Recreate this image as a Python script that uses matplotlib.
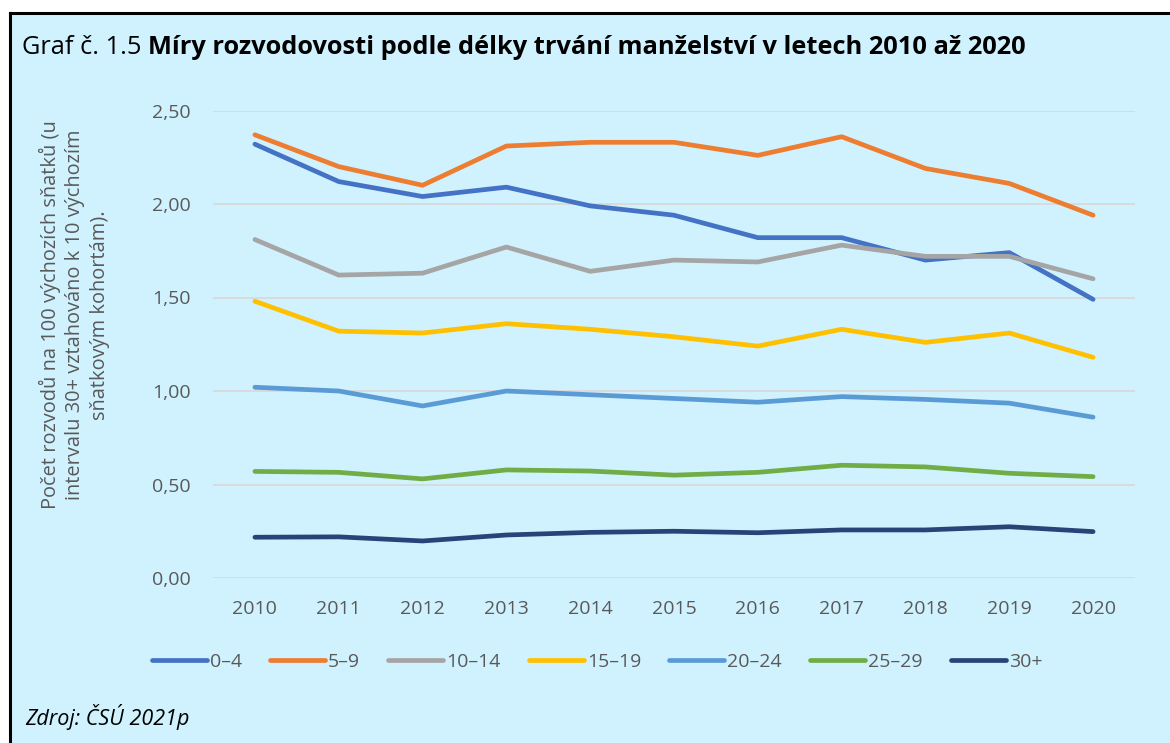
import matplotlib
matplotlib.use("Agg")
import matplotlib.pyplot as plt
from matplotlib.patches import Rectangle
from matplotlib.lines import Line2D

plt.rcParams['font.family'] = ['Open Sans', 'DejaVu Sans']

# data
roky = ['2010', '2011', '2012', '2013', '2014', '2015', '2016', '2017', '2018', '2019', '2020']
d0_4 = [2.32, 2.12, 2.04, 2.09, 1.99, 1.94, 1.82, 1.82, 1.70, 1.74, 1.49]
d5_9 = [2.37, 2.20, 2.10, 2.31, 2.33, 2.33, 2.26, 2.36, 2.19, 2.11, 1.94]
d10_14 = [1.81, 1.62, 1.63, 1.77, 1.64, 1.70, 1.69, 1.78, 1.72, 1.72, 1.60]
d15_19 = [1.48, 1.32, 1.31, 1.36, 1.33, 1.29, 1.24, 1.33, 1.26, 1.31, 1.18]
d20_24 = [1.02, 1.00, 0.92, 1.00, 0.98, 0.96, 0.94, 0.97, 0.955, 0.935, 0.86]
d25_29 = [0.57, 0.565, 0.53, 0.578, 0.572, 0.55, 0.565, 0.603, 0.594, 0.56, 0.542]
d30 = [0.218, 0.22, 0.198, 0.23, 0.244, 0.25, 0.242, 0.257, 0.257, 0.274, 0.248]

serie = [d0_4, d5_9, d10_14, d15_19, d20_24, d25_29, d30]
nazvy = ['0–4', '5–9', '10–14', '15–19', '20–24', '25–29', '30+']
barvy = ['#4472C4', '#ED7D31', '#A5A5A5', '#FFC000', '#5B9BD5', '#70AD47', '#264478']

W, H = 1170, 743
pozadi = '#D0F2FE'
seda = '#595959'

fig = plt.figure(figsize=(W / 100, H / 100), dpi=100)
fig.patch.set_facecolor('white')

# light box with black frame on top and left
fig.add_artist(Rectangle((10 / W, -0.01), 1.0, 1 - 13 / H + 0.01, transform=fig.transFigure,
                         facecolor=pozadi, edgecolor='none', zorder=-10))
fig.add_artist(Line2D([10 / W, 1.01], [1 - 13 / H, 1 - 13 / H], transform=fig.transFigure, color='black', lw=2.2))
fig.add_artist(Line2D([10 / W, 10 / W], [-0.01, 1 - 13 / H], transform=fig.transFigure, color='black', lw=2.2))

ax = fig.add_axes([213 / W, (H - 578) / H, 922 / W, (578 - 110.5) / H])
ax.set_facecolor('none')

x = list(range(len(roky)))
for hodnoty, nazev, barva in zip(serie, nazvy, barvy):
    ax.plot(x, hodnoty, color=barva, lw=3.4, solid_capstyle='round', solid_joinstyle='round', label=nazev)

ax.set_xlim(-0.5, len(roky) - 0.5)
ax.set_ylim(0, 2.5)
ax.set_yticks([0, 0.5, 1.0, 1.5, 2.0, 2.5])
ax.set_yticklabels(['0,00', '0,50', '1,00', '1,50', '2,00', '2,50'])
ax.set_xticks(x)
ax.set_xticklabels(roky)
ax.tick_params(axis='both', length=0, labelsize=14, labelcolor=seda)
ax.tick_params(axis='y', pad=16)
ax.tick_params(axis='x', pad=16)
ax.grid(axis='y', color='#D9D9D9', lw=1.3)
ax.set_axisbelow(True)
for s in ax.spines.values():
    s.set_visible(False)

fig.text(74 / W, 1 - 315 / H,
         'Počet rozvodů na 100 výchozích sňatků (u\nintervalu 30+ vztahováno k 10 výchozím\nsňatkovým kohortám).',
         rotation=90, ha='center', va='center', multialignment='center', fontsize=14.4, color=seda, linespacing=1.3)

# title: plain part + bold part
r = fig.canvas.get_renderer()
t1 = fig.text(22 / W, 1 - 47 / H, 'Graf č. 1.5 ', fontsize=18.3, color='black', va='center')
bb = t1.get_window_extent(renderer=r)
fig.text(bb.x1 / W, 1 - 47 / H, 'Míry rozvodovosti podle délky trvání manželství v letech 2010 až 2020',
         fontsize=18.3, fontweight='bold', color='black', va='center')

leg = fig.legend(loc='center', bbox_to_anchor=(597 / W, 1 - 662 / H), ncol=7, frameon=False,
                 fontsize=14, handlelength=2.83, handletextpad=0.15, columnspacing=1.45)
for t in leg.get_texts():
    t.set_color(seda)

fig.text(25 / W, 1 - 717 / H, 'Zdroj: ČSÚ 2021p', fontsize=15.5, style='italic', color='black', va='center')

fig.savefig('out.png', dpi=100, facecolor=fig.get_facecolor())
